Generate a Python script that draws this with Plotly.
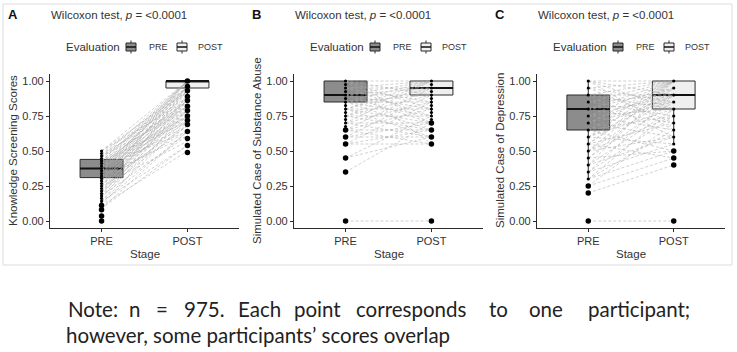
import plotly.graph_objects as go

W, H = 737, 352

# ---------------- data ----------------
stages = ["PRE", "POST"]
stage_pos = [1, 2]
ytick_vals = [0, 0.25, 0.5, 0.75, 1.0]
ytick_text = ["0.00", "0.25", "0.50", "0.75", "1.00"]

panel_labels = ["A", "B", "C"]
y_titles = ["Knowledge Screening Scores",
            "Simulated Case of Substance Abuse",
            "Simulated Case of Depression"]
test_title = "Wilcoxon test, <i>p</i> = <0.0001"
legend_title = "Evaluation"

# box statistics: q1, median, q3, lower whisker, upper whisker
box_a_pre = [0.31, 0.375, 0.44, 0.125, 0.5]
box_a_post = [0.95, 1.0, 1.0, 0.89, 1.0]
box_b_pre = [0.85, 0.9, 1.0, 0.7, 1.0]
box_b_post = [0.9, 0.95, 1.0, 0.75, 1.0]
box_c_pre = [0.65, 0.8, 0.9, 0.3, 1.0]
box_c_post = [0.8, 0.9, 1.0, 0.55, 1.0]

# points (isolated = big, dense columns = small)
pts_a_pre_big = [0.0, 0.036, 0.08, 0.11]
pts_a_pre_small = [0.125, 0.143, 0.161, 0.179, 0.196, 0.214, 0.232, 0.25, 0.268, 0.286,
                   0.304, 0.321, 0.339, 0.357, 0.375, 0.393, 0.411, 0.429, 0.446, 0.464,
                   0.482, 0.5]
pts_a_post_big = [0.49, 0.54, 0.59, 0.64, 0.69, 0.72, 0.75, 0.79, 0.82, 0.86, 0.89, 0.93, 0.96, 1.0]
pts_a_post_small = []

pts_b_pre_big = [0.0, 0.35, 0.45, 0.55, 0.6, 0.65]
pts_b_pre_small = [0.675, 0.7, 0.725, 0.75, 0.775, 0.8, 0.825, 0.85, 0.875, 0.9, 0.925, 0.95, 0.975, 1.0]
pts_b_post_big = [0.0, 0.55, 0.6, 0.65, 0.7]
pts_b_post_small = [0.725, 0.75, 0.775, 0.8, 0.825, 0.85, 0.875, 0.9, 0.925, 0.95, 0.975, 1.0]

pts_c_pre_big = [0.0, 0.2, 0.25]
pts_c_pre_small = [0.3, 0.35, 0.4, 0.45, 0.5, 0.55, 0.6, 0.65, 0.7, 0.75, 0.8, 0.85, 0.9, 0.95, 1.0]
pts_c_post_big = [0.0, 0.4, 0.45, 0.5]
pts_c_post_small = [0.55, 0.6, 0.65, 0.7, 0.75, 0.8, 0.85, 0.9, 0.95, 1.0]

# paired lines (PRE value -> POST value)
line_a_pre = [0.5, 0.5, 0.5, 0.48, 0.48, 0.46, 0.46, 0.46, 0.45, 0.43, 0.43, 0.43, 0.43,
              0.41, 0.41, 0.41, 0.39, 0.39, 0.39, 0.39, 0.39, 0.38, 0.38, 0.38,
              0.36, 0.36, 0.36, 0.36, 0.36, 0.34, 0.34, 0.34,
              0.32, 0.32, 0.32, 0.32, 0.32, 0.3, 0.3, 0.29, 0.29, 0.29, 0.29,
              0.27, 0.27, 0.25, 0.25, 0.25, 0.25, 0.23, 0.23, 0.21, 0.21, 0.21,
              0.2, 0.18, 0.18, 0.18, 0.16, 0.14, 0.14, 0.14, 0.13, 0.11, 0.11, 0.09, 0.09]
line_a_post = [1.0, 0.93, 0.86, 0.96, 0.82, 1.0, 0.89, 0.79, 0.93, 1.0, 0.96, 0.82, 0.71,
               1.0, 0.86, 0.75, 1.0, 0.93, 0.86, 0.75, 0.64, 0.96, 0.82, 0.72,
               1.0, 0.96, 0.89, 0.79, 0.68, 1.0, 0.86, 0.75,
               1.0, 0.93, 0.82, 0.71, 0.61, 0.96, 0.79, 0.96, 0.86, 0.75, 0.64,
               0.93, 0.68, 1.0, 0.89, 0.79, 0.57, 0.86, 0.72, 0.93, 0.82, 0.68,
               0.79, 0.96, 0.75, 0.61, 0.89, 0.86, 0.71, 0.54, 0.64, 0.79, 0.5, 0.64, 0.54]

line_b_pre = [0.0, 0.35, 0.45, 0.45, 0.55, 0.55, 0.55, 0.6, 0.6, 0.6,
              0.65, 0.65, 0.65, 0.65, 0.7, 0.7, 0.7, 0.7, 0.75, 0.75, 0.75, 0.75,
              0.8, 0.8, 0.8, 0.8, 0.8, 0.85, 0.85, 0.85, 0.85, 0.85,
              0.9, 0.9, 0.9, 0.9, 0.9, 0.95, 0.95, 0.95, 0.95,
              1.0, 1.0, 1.0, 1.0, 1.0]
line_b_post = [0.0, 0.7, 0.75, 0.6, 0.55, 0.85, 0.65, 0.9, 0.7, 0.6,
               0.95, 0.8, 0.65, 0.55, 1.0, 0.85, 0.7, 0.6, 1.0, 0.9, 0.75, 0.65,
               1.0, 0.95, 0.8, 0.7, 0.6, 1.0, 0.9, 0.85, 0.75, 0.65,
               1.0, 0.95, 0.9, 0.8, 0.7, 1.0, 0.95, 0.85, 0.75,
               1.0, 0.9, 0.8, 0.7, 0.55]

line_c_pre = [0.0, 0.2, 0.25, 0.25, 0.3, 0.3, 0.3, 0.35, 0.35, 0.35,
              0.4, 0.4, 0.4, 0.45, 0.45, 0.45, 0.5, 0.5, 0.5, 0.5,
              0.55, 0.55, 0.55, 0.55, 0.6, 0.6, 0.6, 0.6, 0.65, 0.65, 0.65, 0.65,
              0.7, 0.7, 0.7, 0.7, 0.75, 0.75, 0.75, 0.75, 0.8, 0.8, 0.8, 0.8,
              0.85, 0.85, 0.85, 0.9, 0.9, 0.9, 0.9, 0.95, 0.95, 0.95,
              1.0, 1.0, 1.0, 1.0]
line_c_post = [0.0, 0.4, 0.45, 0.7, 0.5, 0.8, 0.65, 0.55, 0.9, 0.75,
               0.6, 1.0, 0.8, 0.5, 0.85, 0.95, 0.6, 0.9, 1.0, 0.75,
               0.45, 0.7, 0.95, 1.0, 0.55, 0.8, 0.9, 1.0, 0.5, 0.75, 0.9, 1.0,
               0.6, 0.85, 1.0, 0.95, 0.65, 0.8, 0.9, 1.0, 0.7, 0.85, 0.95, 1.0,
               0.75, 0.9, 1.0, 0.8, 0.9, 1.0, 0.6, 0.85, 1.0, 0.7,
               0.9, 1.0, 0.8, 0.65]

note_line1_words = ["Note:", "n", "=", "975.", "Each", "point", "corresponds", "to", "one", "participant;"]
note_line2 = "however, some participants\u2019 scores overlap"

# ---------------- layout constants ----------------
PRE_FILL = "#8c8c8c"
POST_FILL = "#efefef"
EDGE = "#2b2b2b"
TXT = "#333333"
FONT = "Liberation Sans, Arial, sans-serif"

axis_px = [(50, 239), (294, 483), (537, 725)]   # x extents of each panel's plot area
y_px = (74, 228)                                  # top / bottom of plot areas
note_x = [66, 127, 154, 182, 236, 292, 354, 487, 527, 586]


def fx(px):
    return px / W


def fy(py):
    return 1 - py / H


panels = [
    (box_a_pre, box_a_post, pts_a_pre_big, pts_a_pre_small, pts_a_post_big, pts_a_post_small,
     line_a_pre, line_a_post),
    (box_b_pre, box_b_post, pts_b_pre_big, pts_b_pre_small, pts_b_post_big, pts_b_post_small,
     line_b_pre, line_b_post),
    (box_c_pre, box_c_post, pts_c_pre_big, pts_c_pre_small, pts_c_post_big, pts_c_post_small,
     line_c_pre, line_c_post),
]

fig = go.Figure()
annotations = []
shapes = []

for i, (bpre, bpost, pb, ps, qb, qs, lpre, lpost) in enumerate(panels):
    xa = "x" if i == 0 else f"x{i+1}"
    ya = "y" if i == 0 else f"y{i+1}"
    for pos, stats, fill in [(stage_pos[0], bpre, PRE_FILL), (stage_pos[1], bpost, POST_FILL)]:
        fig.add_trace(go.Box(
            x=[pos], q1=[stats[0]], median=[stats[1]], q3=[stats[2]],
            lowerfence=[stats[3]], upperfence=[stats[4]],
            width=0.5, whiskerwidth=0, fillcolor=fill,
            line=dict(color=EDGE, width=1), boxpoints=False,
            xaxis=xa, yaxis=ya, showlegend=False, hoverinfo="skip"))
    for pos, stats in [(stage_pos[0], bpre), (stage_pos[1], bpost)]:
        fig.add_trace(go.Scatter(
            x=[pos - 0.25, pos + 0.25], y=[stats[1], stats[1]], mode="lines",
            line=dict(color="#111111", width=2), xaxis=xa, yaxis=ya,
            showlegend=False, hoverinfo="skip"))
    lx, ly = [], []
    for a, b in zip(lpre, lpost):
        lx += [stage_pos[0], stage_pos[1], None]
        ly += [a, b, None]
    fig.add_trace(go.Scatter(
        x=lx, y=ly, mode="lines",
        line=dict(color="rgba(170,170,170,0.6)", width=0.9, dash="3px,2px"),
        xaxis=xa, yaxis=ya, showlegend=False, hoverinfo="skip"))
    for pos, vals, size in [(stage_pos[0], ps, 3.2), (stage_pos[1], qs, 3.2),
                            (stage_pos[0], pb, 5.5), (stage_pos[1], qb, 5.5)]:
        if not vals:
            continue
        fig.add_trace(go.Scatter(
            x=[pos] * len(vals), y=vals, mode="markers",
            marker=dict(color="#000000", size=size, line=dict(width=0)),
            xaxis=xa, yaxis=ya, showlegend=False, hoverinfo="skip"))

    x0, x1 = axis_px[i]
    off = x0 - 50
    axis_common = dict(showline=True, linecolor=EDGE, linewidth=1.2, ticks="outside",
                       ticklen=3, tickwidth=1, tickcolor=EDGE, showgrid=False, zeroline=False,
                       tickfont=dict(family=FONT, size=11, color=TXT), fixedrange=True)
    fig.update_layout(**{
        ("xaxis" if i == 0 else f"xaxis{i+1}"): dict(
            domain=[fx(x0), fx(x1)], range=[0.4, 2.6], tickvals=stage_pos, ticktext=stages,
            anchor=ya, **axis_common),
        ("yaxis" if i == 0 else f"yaxis{i+1}"): dict(
            domain=[fy(y_px[1]), fy(y_px[0])], range=[-0.05, 1.05], tickvals=ytick_vals,
            ticktext=ytick_text, anchor=xa, **axis_common),
    })

    annotations.append(dict(x=fx(12.5 + off), y=fy(15), xref="paper", yref="paper",
                            text="<b>%s</b>" % panel_labels[i], showarrow=False,
                            font=dict(family=FONT, size=13, color="#111111"),
                            xanchor="center", yanchor="middle"))
    annotations.append(dict(x=fx(x0 - 1), y=fy(15), xref="paper", yref="paper", text=test_title,
                            showarrow=False, font=dict(family=FONT, size=11.5, color=TXT),
                            xanchor="left", yanchor="middle"))
    annotations.append(dict(x=fx((x0 + x1) / 2), y=fy(254), xref="paper", yref="paper",
                            text="Stage", showarrow=False,
                            font=dict(family=FONT, size=11.5, color=TXT),
                            xanchor="center", yanchor="middle"))
    annotations.append(dict(x=fx(x0 - 37), y=fy((y_px[0] + y_px[1]) / 2), xref="paper",
                            yref="paper", text=y_titles[i], textangle=-90, showarrow=False,
                            font=dict(family=FONT, size=11.5, color=TXT),
                            xanchor="center", yanchor="middle"))
    annotations.append(dict(x=fx(64 + off), y=fy(47), xref="paper", yref="paper",
                            text=legend_title, showarrow=False,
                            font=dict(family=FONT, size=11.5, color=TXT),
                            xanchor="left", yanchor="middle"))
    for lab, ix, tx, fill in [(stages[0], 126, 147, PRE_FILL), (stages[1], 177, 196, POST_FILL)]:
        cx = ix + 5 + off
        shapes.append(dict(type="line", xref="paper", yref="paper", x0=fx(cx), x1=fx(cx),
                           y0=fy(40.5), y1=fy(53.5), line=dict(color=EDGE, width=1)))
        shapes.append(dict(type="rect", xref="paper", yref="paper", x0=fx(ix + off),
                           x1=fx(ix + 10 + off), y0=fy(43), y1=fy(51), fillcolor=fill,
                           line=dict(color=EDGE, width=1)))
        shapes.append(dict(type="line", xref="paper", yref="paper", x0=fx(ix + off),
                           x1=fx(ix + 10 + off), y0=fy(47), y1=fy(47),
                           line=dict(color="#111111", width=1.5)))
        annotations.append(dict(x=fx(tx + off), y=fy(47), xref="paper", yref="paper",
                                text=lab, showarrow=False,
                                font=dict(family=FONT, size=9, color=TXT),
                                xanchor="left", yanchor="middle"))

shapes.append(dict(type="rect", xref="paper", yref="paper", x0=fx(3), x1=fx(732),
                   y0=fy(265), y1=fy(4), line=dict(color="#dcdcdc", width=1), layer="below"))

NOTE_FONT = dict(family="Lato, Carlito, Open Sans, sans-serif", size=20.5, color="#222222")
for w, xpx in zip(note_line1_words, note_x):
    annotations.append(dict(x=fx(xpx), y=fy(309), xref="paper", yref="paper", text=w,
                            showarrow=False, font=NOTE_FONT,
                            xanchor="left", yanchor="middle"))
annotations.append(dict(x=fx(64), y=fy(335), xref="paper", yref="paper", text=note_line2,
                        showarrow=False, font=NOTE_FONT, xanchor="left", yanchor="middle"))

fig.update_layout(width=W, height=H, margin=dict(l=0, r=0, t=0, b=0),
                  paper_bgcolor="white", plot_bgcolor="white", showlegend=False,
                  annotations=annotations, shapes=shapes, boxmode="overlay")

fig.write_html("out.html", config={"displayModeBar": False},
               post_script="document.body.style.margin='0';")
